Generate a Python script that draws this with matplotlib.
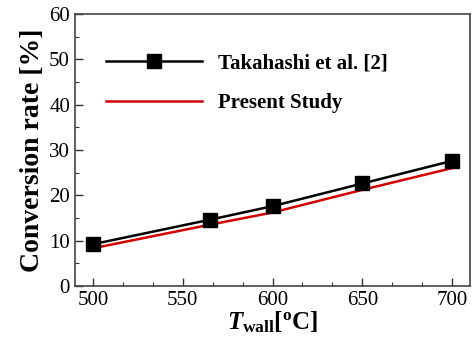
import matplotlib
matplotlib.use("Agg")
import matplotlib.pyplot as plt
from matplotlib.ticker import MultipleLocator, AutoMinorLocator

# data
t_wall = [500, 565, 600, 650, 700]
takahashi = [9.2, 14.6, 17.6, 22.6, 27.6]
t_present = [500, 565, 600, 650, 700]
present = [8.3, 13.5, 16.2, 21.2, 26.0]

plt.rcParams['font.family'] = 'Liberation Serif'
plt.rcParams['mathtext.fontset'] = 'custom'
plt.rcParams['mathtext.rm'] = 'Liberation Serif:bold'
plt.rcParams['mathtext.it'] = 'Liberation Serif:italic:bold'
plt.rcParams['mathtext.bf'] = 'Liberation Serif:bold'

fig = plt.figure(figsize=(4.74, 3.4), dpi=100)
ax = fig.add_axes([0.158, 0.159, 0.834, 0.8])

ax.plot(t_wall, takahashi, color='black', lw=1.8, marker='s', ms=9.5,
        label='Takahashi et al. [2]', zorder=3)
ax.plot(t_present, present, color='#d40000', lw=1.8, label='Present Study')

ax.set_xlim(490, 710)
ax.set_ylim(0, 60)
ax.xaxis.set_major_locator(MultipleLocator(50))
ax.xaxis.set_minor_locator(AutoMinorLocator(3))
ax.yaxis.set_major_locator(MultipleLocator(10))
ax.yaxis.set_minor_locator(AutoMinorLocator(2))
ax.tick_params(which='both', direction='in', top=False, right=False,
               labelsize=15, colors='#333333', labelcolor='black')
ax.tick_params(which='major', length=6, width=1)
ax.tick_params(which='minor', length=3, width=0.8)
for s in ax.spines.values():
    s.set_color('#444444')
    s.set_linewidth(1.2)

ax.set_ylabel('Conversion rate [%]', fontsize=20, fontweight='bold', labelpad=3)
ax.set_xlabel(r'$\mathit{T}_{\mathrm{wall}}[^{\mathrm{o}}\mathrm{C}]$',
              fontsize=18, labelpad=0)

ax.legend(loc='upper left', bbox_to_anchor=(0.032, 0.925), frameon=False,
          prop={'weight': 'bold', 'size': 15}, handlelength=4.6,
          handletextpad=0.75, labelspacing=0.95)

fig.savefig('out.png', dpi=100)
